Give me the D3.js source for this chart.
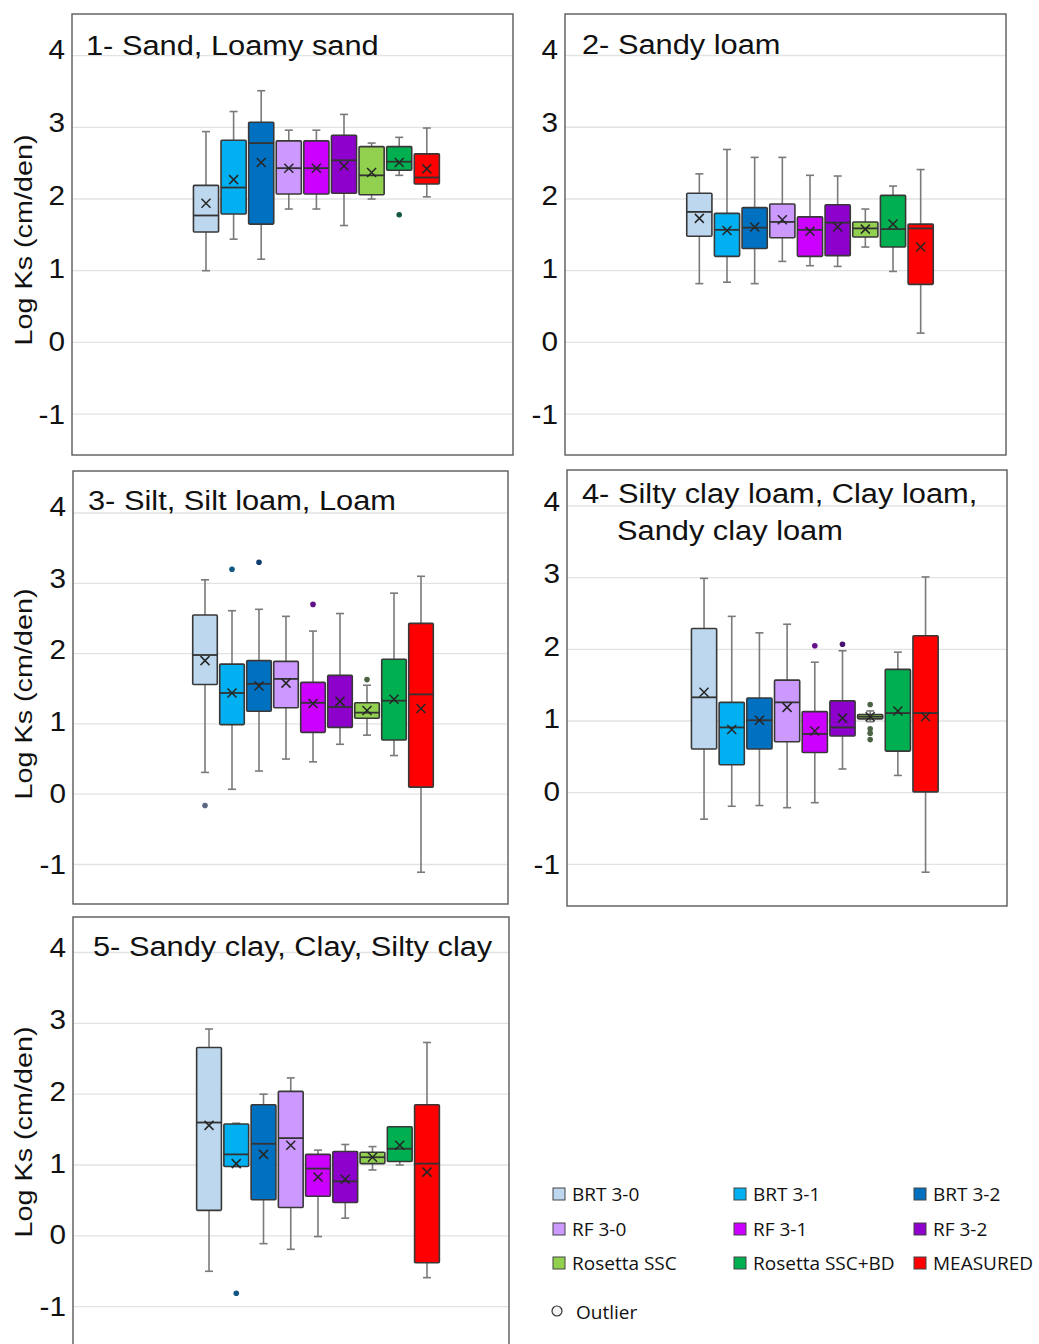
<!DOCTYPE html>
<html><head><meta charset="utf-8">
<script src="https://cdn.jsdelivr.net/npm/d3@7"></script>
<style>body{margin:0;background:#fff}svg{display:block}</style>
</head><body><svg id="chart" width="1039" height="1344"></svg>
<script>
// ---------- DATA ----------
const seriesNames = ["BRT 3-0","BRT 3-1","BRT 3-2","RF 3-0","RF 3-1","RF 3-2","Rosetta SSC","Rosetta SSC+BD","MEASURED"];
const seriesColors = ["#BDD7EE","#00B0F0","#0070C0","#CC99FF","#CC00FF","#8E00CC","#92D050","#00B050","#FF0000"];
const panelTitles = [["1- Sand, Loamy sand"],["2- Sandy loam"],["3- Silt, Silt loam, Loam"],["4- Silty clay loam, Clay loam,","Sandy clay loam"],["5- Sandy clay, Clay, Silty clay"]];
const yTicks = [4,3,2,1,0,-1];
const yLabel = "Log Ks (cm/den)";
// rows = panels 1..5, columns = series
const whiskerHigh = [
  [2.94,3.22,3.51,2.96,2.96,3.18,2.78,2.86,2.99],
  [2.35,2.69,2.58,2.58,2.33,2.32,1.86,2.18,2.41],
  [3.05,2.61,2.63,2.53,2.32,2.57,1.55,2.86,3.10],
  [2.99,2.46,2.23,2.35,1.82,1.98,1.14,1.96,3.01],
  [2.92,1.59,2.00,2.23,1.21,1.29,1.26,1.54,2.73]];
const q3 = [
  [2.19,2.82,3.07,2.81,2.81,2.89,2.73,2.73,2.63],
  [2.08,1.80,1.88,1.93,1.75,1.92,1.68,2.05,1.65],
  [2.55,1.85,1.90,1.89,1.59,1.69,1.30,1.92,2.43],
  [2.29,1.26,1.32,1.57,1.13,1.28,1.09,1.72,2.19],
  [2.66,1.58,1.85,2.04,1.15,1.19,1.18,1.54,1.85]];
const median = [
  [1.77,2.16,2.78,2.43,2.43,2.54,2.33,2.52,2.30],
  [1.82,1.57,1.60,1.68,1.57,1.67,1.59,1.58,1.59],
  [1.98,1.44,1.57,1.64,1.30,1.24,1.16,1.33,1.42],
  [1.33,0.91,1.01,1.26,0.82,0.91,1.06,1.11,1.11],
  [1.60,1.15,1.30,1.38,0.95,0.77,1.11,1.23,1.02]];
const q1 = [
  [1.54,1.79,1.65,2.07,2.07,2.08,2.06,2.40,2.21],
  [1.48,1.20,1.31,1.46,1.20,1.21,1.47,1.33,0.81],
  [1.56,0.99,1.18,1.23,0.88,0.95,1.08,0.77,0.10],
  [0.61,0.39,0.61,0.71,0.56,0.79,1.03,0.58,0.01],
  [0.36,0.98,0.51,0.40,0.56,0.47,1.02,1.05,-0.38]];
const whiskerLow = [
  [1.00,1.44,1.16,1.86,1.86,1.63,2.00,2.33,2.03],
  [0.82,0.84,0.82,1.13,1.07,1.06,1.33,0.99,0.13],
  [0.31,0.07,0.33,0.50,0.46,0.71,0.84,0.55,-1.11],
  [-0.37,-0.19,-0.18,-0.21,-0.14,0.33,0.99,0.24,-1.11],
  [-0.50,0.98,-0.11,-0.19,-0.01,0.25,0.93,1.00,-0.59]];
const mean = [
  [1.94,2.27,2.51,2.43,2.43,2.46,2.37,2.51,2.42],
  [1.73,1.56,1.61,1.71,1.55,1.61,1.58,1.65,1.33],
  [1.90,1.44,1.54,1.58,1.29,1.32,1.19,1.35,1.22],
  [1.40,0.88,1.01,1.19,0.86,1.04,1.06,1.14,1.06],
  [1.56,1.02,1.15,1.28,0.83,0.80,1.11,1.28,0.90]];
// [panel index, series index, value]
const outliers = [
  [0,7,1.78],
  [2,0,-0.16],[2,1,3.20],[2,2,3.30],[2,4,2.70],[2,6,1.63],
  [3,4,2.05],[3,5,2.07],[3,6,1.23],[3,6,0.89],[3,6,0.83],[3,6,0.74],
  [4,1,-0.81]];
const legendLabels = seriesNames;
const outlierLabel = "Outlier";

// ---------- LAYOUT ----------
const panels = [
  {x0:72, x1:513, y0:14, y1:455, yTop:55.6, yBot:414.1, bL:120.2, bR:368.6, tx:[86], ty:[55], ylab:240, lo:1.2},
  {x0:565,x1:1006,y0:14, y1:455, yTop:55.5, yBot:414.2, bL:120.5, bR:369.5, tx:[582], ty:[54], ylab:null, lo:1.2},
  {x0:73, x1:508, y0:471,y1:904, yTop:513,  yBot:864.5, bL:118.5, bR:361.5, tx:[88], ty:[510], ylab:694, lo:1.4},
  {x0:567,x1:1007,y0:470,y1:906, yTop:506,  yBot:864.3, bL:123.2, bR:372.4, tx:[582,617], ty:[503,540], ylab:null, lo:1.0},
  {x0:73, x1:509, y0:917,y1:1380,yTop:952.5,yBot:1306.7,bL:122.4, bR:367.6, tx:[93], ty:[956], ylab:1132, lo:1.0}
];
const FONT = "'Liberation Sans', Arial, sans-serif";
const svg = d3.select("#chart");

panels.forEach((p, pi) => {
  const g = svg.append("g");
  const y = d3.scaleLinear().domain([4,-1]).range([p.yTop, p.yBot]);
  const x = d3.scaleBand().domain(seriesNames).range([p.x0 + p.bL, p.x0 + p.bR])
              .paddingInner(0.09).paddingOuter(0.045);
  const bw = x.bandwidth();

  // gridlines
  g.append("g").selectAll("line").data(yTicks).join("line")
    .attr("x1", p.x0).attr("x2", p.x1)
    .attr("y1", d => y(d)).attr("y2", d => y(d))
    .attr("stroke", "#e3e3e3").attr("stroke-width", 1.3);

  // tick labels
  g.append("g").selectAll("text").data(yTicks).join("text")
    .attr("transform", d => `translate(${p.x0 - 7},${y(d) - 1 - p.lo * d}) scale(1.1,1)`)
    .attr("text-anchor", "end").attr("dominant-baseline", "central")
    .attr("font-family", FONT).attr("font-size", 27).attr("fill", "#111")
    .text(d => d);

  // y label
  if (p.ylab !== null) {
    g.append("text")
      .attr("transform", `translate(32,${p.ylab}) rotate(-90) scale(1.2,1)`)
      .attr("text-anchor", "middle").attr("font-family", FONT).attr("font-size", 24)
      .attr("fill", "#111").text(yLabel);
  }

  // title
  panelTitles[pi].forEach((t, i) => {
    g.append("text")
      .attr("transform", `translate(${p.tx[i]},${p.ty[i]}) scale(1.1,1)`)
      .attr("font-family", FONT).attr("font-size", 28).attr("fill", "#111").text(t);
  });

  // boxes
  const data = seriesNames.map((s, si) => ({
    s, si, lo: whiskerLow[pi][si], q1: q1[pi][si], med: median[pi][si],
    q3: q3[pi][si], hi: whiskerHigh[pi][si], mean: mean[pi][si]
  }));
  const bx = g.append("g").selectAll("g").data(data).join("g")
    .attr("transform", d => `translate(${x(d.s) + bw/2},0)`);
  const wc = "#7a7a7a";
  bx.append("line").attr("x1",0).attr("x2",0).attr("y1", d=>y(d.hi)).attr("y2", d=>y(d.q3))
    .attr("stroke", wc).attr("stroke-width", 1.6);
  bx.append("line").attr("x1",0).attr("x2",0).attr("y1", d=>y(d.q1)).attr("y2", d=>y(d.lo))
    .attr("stroke", wc).attr("stroke-width", 1.6);
  bx.append("line").attr("x1",-4).attr("x2",4).attr("y1", d=>y(d.hi)).attr("y2", d=>y(d.hi))
    .attr("stroke", wc).attr("stroke-width", 1.6);
  bx.append("line").attr("x1",-4).attr("x2",4).attr("y1", d=>y(d.lo)).attr("y2", d=>y(d.lo))
    .attr("stroke", wc).attr("stroke-width", 1.6);
  bx.append("rect").attr("x", -bw/2).attr("width", bw)
    .attr("y", d => y(d.q3)).attr("height", d => Math.max(1, y(d.q1) - y(d.q3)))
    .attr("fill", d => seriesColors[d.si]).attr("stroke", "#383838").attr("stroke-width", 1.6).attr("rx", 1);
  bx.append("line").attr("x1", -bw/2).attr("x2", bw/2).attr("y1", d=>y(d.med)).attr("y2", d=>y(d.med))
    .attr("stroke", "#333").attr("stroke-width", 1.8);
  const m = 4.5;
  bx.append("path").attr("d", d => {
      const yy = y(d.mean);
      return `M${-m},${yy-m}L${m},${yy+m}M${-m},${yy+m}L${m},${yy-m}`;
    }).attr("stroke", "#262626").attr("stroke-width", 1.5).attr("fill", "none");

  // outliers
  g.append("g").selectAll("circle").data(outliers.filter(o => o[0] === pi)).join("circle")
    .attr("cx", o => x(seriesNames[o[1]]) + bw/2).attr("cy", o => y(o[2])).attr("r", 2.8)
    .attr("fill", o => d3.interpolateRgb(seriesColors[o[1]], "#1c1c3a")(0.6));

  // frame
  g.append("rect").attr("x", p.x0).attr("y", p.y0).attr("width", p.x1 - p.x0).attr("height", p.y1 - p.y0)
    .attr("fill", "none").attr("stroke", "#5a5a5a").attr("stroke-width", 1.4);
});

// ---------- LEGEND ----------
const lgX = [553, 734, 914], lgY = [1194, 1229, 1263];
const lg = svg.append("g");
legendLabels.forEach((t, i) => {
  const cx = lgX[i % 3], cy = lgY[Math.floor(i / 3)];
  lg.append("rect").attr("x", cx).attr("y", cy - 6).attr("width", 12).attr("height", 12)
    .attr("fill", seriesColors[i]).attr("stroke", "#444").attr("stroke-width", 1);
  lg.append("text").attr("x", cx + 19).attr("y", cy).attr("dominant-baseline", "central")
    .attr("font-family", "'Open Sans', sans-serif").attr("font-size", 19).attr("fill", "#111").text(t);
});
lg.append("circle").attr("cx", 557).attr("cy", 1311).attr("r", 5)
  .attr("fill", "#f4f4f4").attr("stroke", "#333").attr("stroke-width", 1.2);
lg.append("text").attr("x", 576).attr("y", 1312).attr("dominant-baseline", "central")
  .attr("font-family", "'Open Sans', sans-serif").attr("font-size", 19).attr("fill", "#111").text(outlierLabel);
</script></body></html>
